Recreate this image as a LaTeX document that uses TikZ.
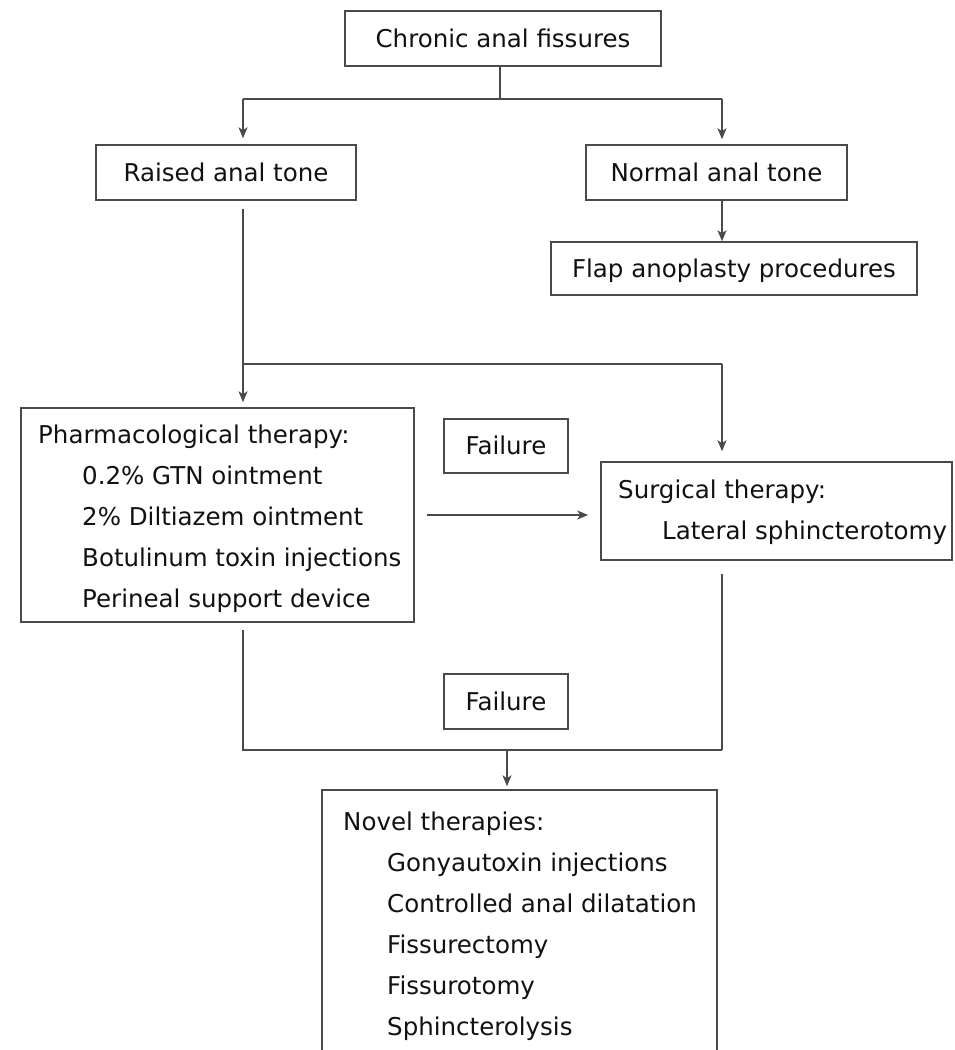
\documentclass[tikz,border=0pt]{standalone}
\usepackage{fontspec}
\setmainfont{DejaVu Sans}
\usetikzlibrary{arrows.meta}
\definecolor{linegray}{HTML}{4A4A4A}
\definecolor{txt}{HTML}{111111}
\begin{document}
\begin{tikzpicture}[x=1pt,y=-1pt,
  box/.style={draw=linegray, line width=1.5pt, inner sep=0pt, font=\fontsize{24.5}{29}\selectfont, text=txt, text height=17.5pt, text depth=0pt},
  lbl/.style={anchor=base west, inner sep=0pt, font=\fontsize{24.5}{29}\selectfont, text=txt},
  conn/.style={draw=linegray, line width=1.5pt},
  arr/.style={conn, -{Stealth[length=11pt,width=9pt,inset=3pt]}}]
\useasboundingbox (0,0) rectangle (955,1050);
\clip (0,0) rectangle (955,1050);
\fill[white] (0,0) rectangle (955,1050);

% boxes
\node[box, minimum width=316pt, minimum height=55pt] (chronic) at (503,38.5) {Chronic anal fissures};
\node[box, minimum width=260pt, minimum height=55pt] (raised) at (226,172.5) {Raised anal tone};
\node[box, minimum width=261pt, minimum height=55pt] (normal) at (716.5,172.5) {Normal anal tone};
\node[box, minimum width=366pt, minimum height=53pt] (flap) at (734,268.5) {Flap anoplasty procedures};
\node[box, minimum width=393pt, minimum height=214pt] (pharm) at (217.5,515) {};
\node[box, minimum width=124pt, minimum height=54pt] (fail1) at (506,446) {Failure};
\node[box, minimum width=351pt, minimum height=98pt] (surg) at (776.5,511) {};
\node[box, minimum width=124pt, minimum height=55pt] (fail2) at (506,701.5) {Failure};
\node[box, minimum width=395pt, minimum height=290pt] (novel) at (519.5,935) {};

% texts in multi-line boxes
\node[lbl] (p0) at (38,443) {Pharmacological therapy:};
\node[lbl] (p1) at (82,484) {0.2\% GTN ointment};
\node[lbl] (p2) at (82,525) {2\% Diltiazem ointment};
\node[lbl] (p3) at (82,566) {Botulinum toxin injections};
\node[lbl] (p4) at (82,607) {Perineal support device};

\node[lbl] (s0) at (618,498) {Surgical therapy:};
\node[lbl] (s1) at (662,539) {Lateral sphincterotomy};

\node[lbl] (n0) at (343,830) {Novel therapies:};
\node[lbl] (n1) at (387,871) {Gonyautoxin injections};
\node[lbl] (n2) at (387,912) {Controlled anal dilatation};
\node[lbl] (n3) at (387,953) {Fissurectomy};
\node[lbl] (n4) at (387,994) {Fissurotomy};
\node[lbl] (n5) at (387,1035) {Sphincterolysis};

% junction coordinates
\coordinate (c0) at (500,99);
\coordinate (jl) at (243,99);
\coordinate (jr) at (722,99);
\coordinate (k1) at (243,364);
\coordinate (k2) at (722,364);
\coordinate (m1) at (243,750);
\coordinate (m2) at (722,750);
\coordinate (m0) at (507,750);

% connectors
\draw[conn] (chronic.south -| c0) -- (c0);
\draw[conn] (jl) -- (jr);
\draw[arr, shorten >=6pt] (jl) -- (jl |- raised.north);
\draw[arr, shorten >=5pt] (jr) -- (jr |- normal.north);
\draw[arr] (normal.south -| jr) -- (jr |- flap.north);

\draw[conn, shorten <=8pt] (k1 |- raised.south) -- (k1) -- (k2);
\draw[arr, shorten >=5pt] (k1) -- (k1 |- pharm.north);
\draw[arr, shorten >=10pt] (k2) -- (k2 |- surg.north);

\draw[arr, shorten <=12pt, shorten >=12pt] (pharm.east) -- (pharm.east -| surg.west);

\draw[conn, shorten <=7pt] (m1 |- pharm.south) -- (m1) -- (m2);
\draw[conn, shorten <=13pt] (m2 |- surg.south) -- (m2);
\draw[arr, shorten >=3pt] (m0) -- (m0 |- novel.north);
\end{tikzpicture}
\end{document}
